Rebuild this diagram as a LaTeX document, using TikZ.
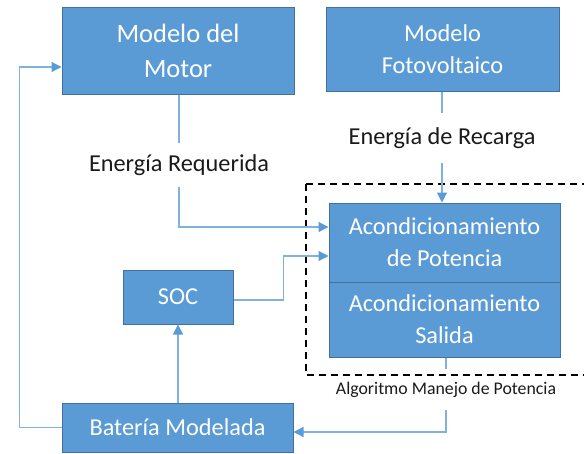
\documentclass[tikz,border=0pt]{standalone}
\usepackage{fontspec}
\setmainfont{Carlito}
\usetikzlibrary{arrows.meta}
\definecolor{boxfill}{HTML}{5B9BD5}
\definecolor{boxdraw}{HTML}{41719C}
\definecolor{linec}{HTML}{7FB2E0}
\definecolor{tipc}{HTML}{5B9BD5}
\definecolor{txtc}{HTML}{1A1A1A}
\tikzset{
  blockbox/.style={draw=boxdraw, line width=1pt, fill=boxfill, text=white, align=center,
    font=\fontsize{24.3}{32}\selectfont, inner sep=0pt},
  lbl/.style={text=txtc, font=\fontsize{24.3}{28}\selectfont, inner sep=0pt},
  smalllbl/.style={text=txtc, font=\fontsize{17.8}{20}\selectfont, inner sep=0pt},
  conn/.style={draw=linec, line width=1.2pt},
  arr/.style={conn, -{Triangle[length=10pt,width=10pt,fill=tipc,color=tipc]}},
}
\begin{document}
\begin{tikzpicture}[x=1pt,y=-1pt]
\useasboundingbox (0,0) rectangle (584,453);
% dashed frame
\draw[dashed, line width=1.3pt, dash pattern=on 7pt off 5pt] (306,184) -- (600,184);
\draw[dashed, line width=1.3pt, dash pattern=on 7pt off 5pt] (306,184) -- (306,375) -- (600,375);
% blocks
\node[blockbox, minimum width=232pt, minimum height=87pt, font=\fontsize{26.5}{35}\selectfont] (motor) at (178,50.5) {Modelo del\\Motor};
\node[blockbox, minimum width=233pt, minimum height=84pt] (foto) at (442.5,49.5) {Modelo\\Fotovoltaico};
\node[blockbox, minimum width=231pt, minimum height=79pt] (acond) at (444.5,242.5) {Acondicionamiento\\de Potencia};
\node[blockbox, minimum width=231pt, minimum height=75pt] (salida) at (444.5,319.5) {Acondicionamiento\\Salida};
\node[blockbox, minimum width=110pt, minimum height=54pt] (soc) at (178,297) {SOC};
\node[blockbox, minimum width=231pt, minimum height=49pt] (batt) at (177.5,427.5) {Batería Modelada};
% labels
\node[lbl, minimum height=44pt] (ereq) at (179,165) {Energía Requerida};
\node[lbl, minimum height=50pt] (erec) at (442,138) {Energía de Recarga};
\node[smalllbl, minimum height=40pt] (alg) at (446,390) {Algoritmo Manejo de Potencia};
% connectors
\draw[conn] (motor.south -| ereq.north) -- (ereq.north);
\draw[arr] (ereq.south) |- ([yshift=15.5pt]acond.west);
\draw[conn] (foto.south -| erec.north) -- (erec.north);
\draw[arr] (erec.south) -- (erec.south |- acond.north);
\draw[arr] ([yshift=-3pt]soc.east) -- ++(50,0) |- ([yshift=-13.5pt]acond.west);
\draw[arr] (batt.north -| soc.south) -- (soc.south);
\draw[arr] (batt.west) -- ++(-42,0) |- ([yshift=-16.5pt]motor.west);
\draw[conn] (salida.south -| alg.north) -- ++(0,11);
\draw[arr] (alg.south) |- ([yshift=-4.5pt]batt.east);
\end{tikzpicture}
\end{document}
